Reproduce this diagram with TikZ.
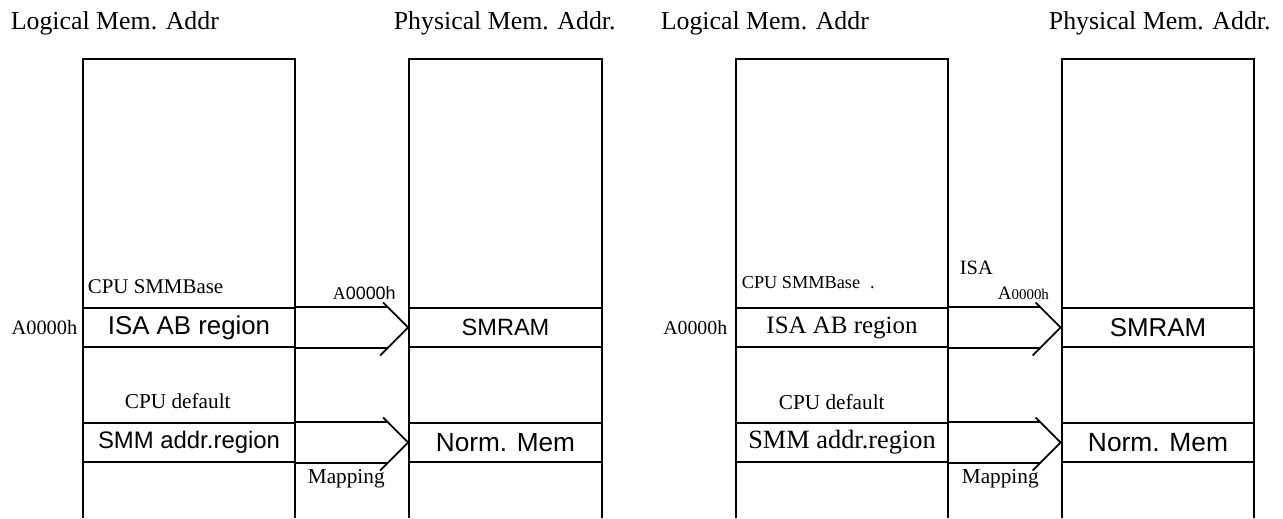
\documentclass[tikz,border=0pt]{standalone}
\usepackage{fontspec}
\setmainfont{Liberation Serif}
\setsansfont{Liberation Sans}
\usetikzlibrary{positioning}

\newcommand{\fsz}[1]{\fontsize{#1}{#1}\selectfont}

\begin{document}
\begin{tikzpicture}[x=0.02cm, y=-0.02cm, line width=1pt,
  band/.style={draw, inner sep=0pt, minimum height=0.78cm},
  lband/.style={band, minimum width=4.24cm},
  pband/.style={band, minimum width=3.86cm},
  note/.style={inner sep=0pt, font=\fsz{12.1}},
  head/.style={inner sep=0pt, anchor=west, font=\fsz{14.7}}]
\useasboundingbox (0,0) rectangle (1283,518);

% left half
\node[head] (logA) at (10,23) {Logical Mem. Addr};
\node[head] (phyA) at (393,23) {Physical Mem. Addr.};
\draw (83,518) -- (83,59) -- (295,59) -- (295,518);
\draw (409,518) -- (409,59) -- (602,59) -- (602,518);

\node[lband, font=\sffamily\fsz{14.7}] (isaA) at (189,327.5) {ISA AB region};
\node[lband, font=\sffamily\fsz{13.6}] (smmA) at (189,442.5) {SMM addr.region};
\node[pband, font=\sffamily\fsz{13.4}] (smramA) at (505.5,327.5) {SMRAM};
\node[pband, font=\sffamily\fsz{14.9}] (normA) at (505.5,442.5) {Norm. Mem};

\node[note, font=\fsz{11.9}, anchor=west] (baseA) at (87,287) {CPU SMMBase};
\node[note, font=\fsz{11.6}, left=0.08cm of isaA] (addrA) {A0000h};
\node[note, font=\fsz{10.2}, anchor=west] (tipA) at (332,293) {A{\sffamily 0000h}};
\node[note, anchor=west] (defA) at (124,401) {CPU default};
\node[note, anchor=west] (mapA) at (307,479) {Mapping};

\draw (isaA.north east) -- ([xshift=-0.4cm]smramA.north west);
\draw (isaA.south east) -- ([xshift=-0.4cm]smramA.south west);
\draw ([shift={(-25,-25)}]smramA.west) -- (smramA.west) -- ([shift={(-28,28)}]smramA.west);
\draw (smmA.north east) -- ([xshift=-0.4cm]normA.north west);
\draw (smmA.south east) -- ([xshift=-0.4cm]normA.south west);
\draw ([shift={(-25,-25)}]normA.west) -- (normA.west) -- ([shift={(-28,28)}]normA.west);

% right half
\node[head] (logB) at (660,23) {Logical Mem. Addr};
\node[head] (phyB) at (1048,23) {Physical Mem. Addr.};
\draw (736,518) -- (736,59) -- (948,59) -- (948,518);
\draw (1062,518) -- (1062,59) -- (1254,59) -- (1254,518);

\node[lband, font=\fsz{14.2}] (isaB) at (842,327.5) {ISA AB region};
\node[lband, font=\fsz{15}] (smmB) at (842,442.5) {SMM addr.region};
\node[pband, font=\sffamily\fsz{14.7}] (smramB) at (1158,327.5) {SMRAM};
\node[pband, font=\sffamily\fsz{15}] (normB) at (1158,442.5) {Norm. Mem};

\node[note, font=\fsz{10.4}, anchor=west] (baseB) at (741,283) {CPU SMMBase\hspace{0.2cm}.};
\node[note, font=\fsz{11.3}, left=0.14cm of isaB] (addrB) {A0000h};
\node[note, font=\fsz{11.6}, anchor=west] (isaT) at (959,268) {ISA};
\node[note, font=\fsz{10.8}, anchor=west] (tipB) at (997,293) {A{\fsz{8.5}0000h}};
\node[note, anchor=west] (defB) at (778,402) {CPU default};
\node[note, anchor=west] (mapB) at (961,479) {Mapping};

\draw (isaB.north east) -- ([xshift=-0.4cm]smramB.north west);
\draw (isaB.south east) -- ([xshift=-0.4cm]smramB.south west);
\draw ([shift={(-25,-25)}]smramB.west) -- (smramB.west) -- ([shift={(-28,28)}]smramB.west);
\draw (smmB.north east) -- ([xshift=-0.4cm]normB.north west);
\draw (smmB.south east) -- ([xshift=-0.4cm]normB.south west);
\draw ([shift={(-25,-25)}]normB.west) -- (normB.west) -- ([shift={(-28,28)}]normB.west);
\end{tikzpicture}
\end{document}
